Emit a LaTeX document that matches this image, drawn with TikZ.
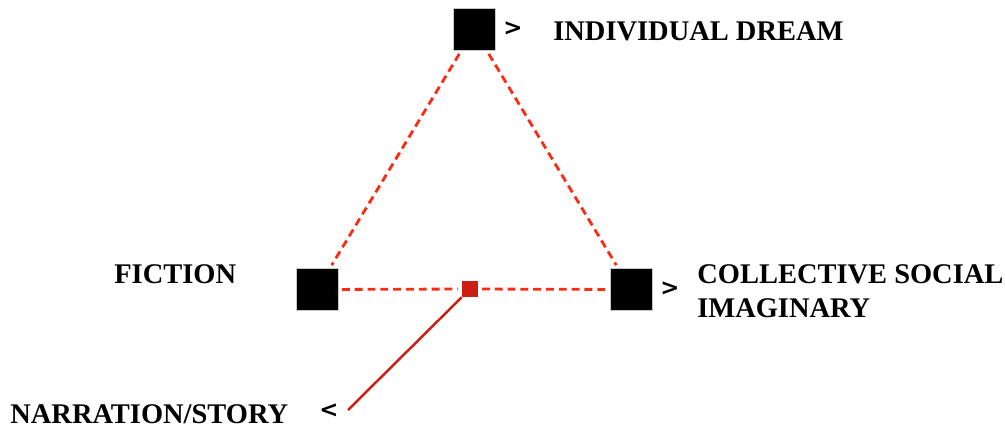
\documentclass[tikz,border=0pt]{standalone}
\usepackage{fontspec}
\setmainfont{Liberation Serif}
\newfontfamily\chevfont{DejaVu Sans}
\usepackage{xcolor}
\definecolor{dashred}{RGB}{250,45,20}
\definecolor{hubred}{RGB}{205,30,20}
\definecolor{edgegray}{RGB}{200,200,200}
\usetikzlibrary{positioning}

\begin{document}
\begin{tikzpicture}[x=0.02cm, y=-0.02cm,
  corner/.style={draw=edgegray, line width=0.4pt, fill=black, minimum size=0.84cm, inner sep=0pt},
  hub/.style={fill=hubred, minimum size=0.32cm, inner sep=0pt},
  tie/.style={dashred, line width=1.6pt, dash pattern=on 4.5pt off 2.8pt, shorten <=2pt, shorten >=2pt},
  lbl/.style={font=\bfseries\fontsize{16.2}{19.3}\selectfont, inner sep=0pt, align=left},
  chev/.style={font=\chevfont\bfseries\fontsize{13}{13}\selectfont, inner sep=0pt}]
\useasboundingbox (0,0) rectangle (1005,433);
% the three corners and the hub
\node[corner] (dream) at (474,29.5) {};
\node[corner] (fiction) at (317,289.5) {};
\node[corner] (social) at (631,289.5) {};
\node[hub] (story) at (470,289) {};
\coordinate (tail) at (348,410);
% triangle
\draw[tie] (dream) -- (fiction);
\draw[tie] (dream) -- (social);
\draw[tie] (fiction) -- (story);
\draw[tie] (story) -- (social);
\draw[hubred, line width=1.4pt] (story) -- (tail);
% labels
\node[chev] (dreamchev) at (513,29) {>};
\node[chev] (socialchev) at (670,289) {>};
\node[chev] (storychev) at (329,411) {<};
\node[lbl, anchor=base west] (dreamtxt) at (553,40) {INDIVIDUAL DREAM};
\node[lbl, anchor=base west] (fictiontxt) at (114,283) {FICTION};
\node[lbl, anchor=base west] (socialtxt) at (697,317) {COLLECTIVE SOCIAL\\IMAGINARY};
\node[lbl, anchor=base west] (storytxt) at (10,423) {NARRATION/STORY};
\end{tikzpicture}
\end{document}
